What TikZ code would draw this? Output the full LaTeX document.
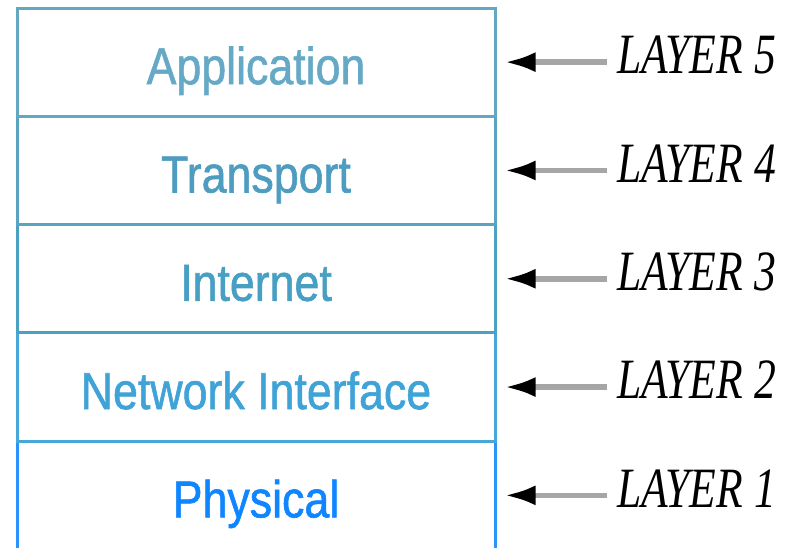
\documentclass[tikz,border=0pt]{standalone}
\usepackage{fontspec}
\setmainfont{Liberation Serif}
\newfontfamily\boxfont[FakeBold=1.2]{Liberation Sans}
\usetikzlibrary{arrows.meta}
\definecolor{cAppB}{HTML}{64A7C3}\definecolor{cAppT}{HTML}{66A9C6}
\definecolor{cTraB}{HTML}{5AA3C1}\definecolor{cTraT}{HTML}{4E9CBF}
\definecolor{cIntB}{HTML}{4BA1C1}\definecolor{cIntT}{HTML}{47A0C3}
\definecolor{cNetB}{HTML}{46A7D8}\definecolor{cNetT}{HTML}{3FA3D8}
\definecolor{cPhyB}{HTML}{2A93FF}\definecolor{cPhyT}{HTML}{0F86FF}
\definecolor{arrgray}{HTML}{A6A6A6}
\tikzset{
  layerbox/.style={draw=#1, line width=3pt, minimum width=478pt, minimum height=108.3pt,
    inner sep=0pt, text height=44pt, text depth=0pt, fill=white,
    font=\boxfont\fontsize{52}{52}\selectfont},
  layerlbl/.style={anchor=base west, inner sep=0pt, font=\itshape\fontsize{57}{57}\selectfont},
  layerarrow/.style={arrgray, line width=5.5pt, shorten <=10pt, shorten >=8pt,
    -{Latex[length=31pt,width=20pt,color=black]}}
}
\newcommand{\narrow}[1]{\scalebox{0.86}[1]{#1}}
\newcommand{\nlbl}[1]{\scalebox{0.765}[1]{#1}}
\begin{document}
\begin{tikzpicture}[x=1pt,y=-1pt]
\useasboundingbox (0,0) rectangle (787,547);
\fill[white] (0,0) rectangle (787,547);
\node[layerbox=cPhyB, text=cPhyT] (phy) at (256,495.35) {\narrow{Physical}};
\node[layerbox=cNetB, text=cNetT] (net) at (256,387.05) {\narrow{Network Interface}};
\node[layerbox=cIntB, text=cIntT] (int) at (256,278.75) {\narrow{Internet}};
\node[layerbox=cTraB, text=cTraT] (tra) at (256,170.45) {\narrow{Transport}};
\node[layerbox=cAppB, text=cAppT] (app) at (256,62.15) {\narrow{Application}};
\node[layerlbl] (l5) at (617,73) {\nlbl{LAYER 5}};
\node[layerlbl] (l4) at (617,182) {\nlbl{LAYER 4}};
\node[layerlbl] (l3) at (617,290) {\nlbl{LAYER 3}};
\node[layerlbl] (l2) at (617,398) {\nlbl{LAYER 2}};
\node[layerlbl] (l1) at (617,507) {\nlbl{LAYER 1}};
\draw[layerarrow] (app.east -| l5.west) -- (app.east);
\draw[layerarrow] (tra.east -| l4.west) -- (tra.east);
\draw[layerarrow] (int.east -| l3.west) -- (int.east);
\draw[layerarrow] (net.east -| l2.west) -- (net.east);
\draw[layerarrow] (phy.east -| l1.west) -- (phy.east);
\end{tikzpicture}
\end{document}
